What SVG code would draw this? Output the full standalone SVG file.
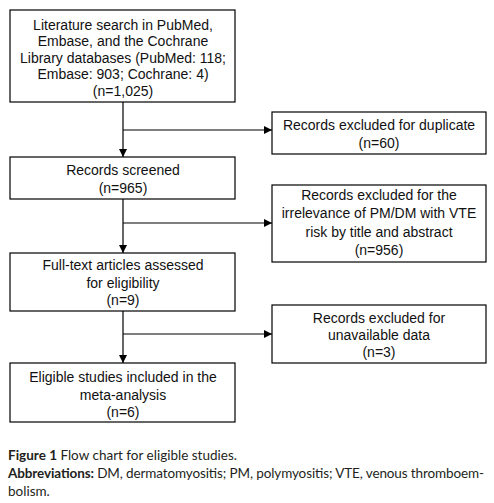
<svg xmlns="http://www.w3.org/2000/svg" width="494" height="503" viewBox="0 0 494 503">
<style>
.box{fill:#fff;stroke:#000;stroke-width:1.2}
.t{font-family:"Liberation Sans",Arial,sans-serif;font-size:14px;fill:#111;text-anchor:middle}
.c{stroke:#000;stroke-width:1.2;fill:none}
.cap{font-family:Lato,"Open Sans",sans-serif;font-size:13.5px;fill:#231f20}
.b{font-weight:bold}
</style>
<defs>
<marker id="ah" markerWidth="8" markerHeight="8" refX="8" refY="4" orient="auto" markerUnits="userSpaceOnUse">
<path d="M0,0 L8,4 L0,8 Z" fill="#000"/>
</marker>
</defs>
<rect width="494" height="503" fill="#fff"/>
<g id="connectors">
<line class="c" x1="123" y1="102" x2="123" y2="157" marker-end="url(#ah)"/>
<line class="c" x1="123" y1="130" x2="272" y2="130" marker-end="url(#ah)"/>
<line class="c" x1="123" y1="199" x2="123" y2="253" marker-end="url(#ah)"/>
<line class="c" x1="123" y1="223" x2="272" y2="223" marker-end="url(#ah)"/>
<line class="c" x1="123" y1="311" x2="123" y2="363" marker-end="url(#ah)"/>
<line class="c" x1="123" y1="334" x2="272" y2="334" marker-end="url(#ah)"/>
</g>
<g id="search">
<rect class="box" x="10" y="10" width="225" height="92"/>
<text class="t" x="123" y="30">Literature search in PubMed,</text>
<text class="t" x="123" y="46">Embase, and the Cochrane</text>
<text class="t" x="123" y="63">Library databases (PubMed: 118;</text>
<text class="t" x="123" y="79">Embase: 903; Cochrane: 4)</text>
<text class="t" x="123" y="96">(n=1,025)</text>
</g>
<g id="screened">
<rect class="box" x="10" y="157" width="225" height="42"/>
<text class="t" x="123" y="175">Records screened</text>
<text class="t" x="123" y="193">(n=965)</text>
</g>
<g id="fulltext">
<rect class="box" x="10" y="253" width="225" height="58"/>
<text class="t" x="123" y="270">Full-text articles assessed</text>
<text class="t" x="123" y="288">for eligibility</text>
<text class="t" x="123" y="305">(n=9)</text>
</g>
<g id="included">
<rect class="box" x="10" y="363" width="225" height="59"/>
<text class="t" x="123" y="382">Eligible studies included in the</text>
<text class="t" x="123" y="400">meta-analysis</text>
<text class="t" x="123" y="417">(n=6)</text>
</g>
<g id="dup">
<rect class="box" x="272" y="112" width="214" height="42"/>
<text class="t" x="379" y="130">Records excluded for duplicate</text>
<text class="t" x="379" y="148">(n=60)</text>
</g>
<g id="irrelevant">
<rect class="box" x="272" y="185" width="214" height="77"/>
<text class="t" x="379" y="200">Records excluded for the</text>
<text class="t" x="379" y="218">irrelevance of PM/DM with VTE</text>
<text class="t" x="379" y="237">risk by title and abstract</text>
<text class="t" x="379" y="255">(n=956)</text>
</g>
<g id="unavailable">
<rect class="box" x="272" y="305" width="214" height="58"/>
<text class="t" x="379" y="323">Records excluded for</text>
<text class="t" x="379" y="340">unavailable data</text>
<text class="t" x="379" y="357">(n=3)</text>
</g>
<g id="caption">
<text class="cap" x="8" y="460"><tspan class="b">Figure 1</tspan> Flow chart for eligible studies.</text>
<text class="cap" x="8" y="478" textLength="476" lengthAdjust="spacing"><tspan class="b">Abbreviations:</tspan> DM, dermatomyositis; PM, polymyositis; VTE, venous thromboem-</text>
<text class="cap" x="8" y="496">bolism.</text>
</g>
</svg>
